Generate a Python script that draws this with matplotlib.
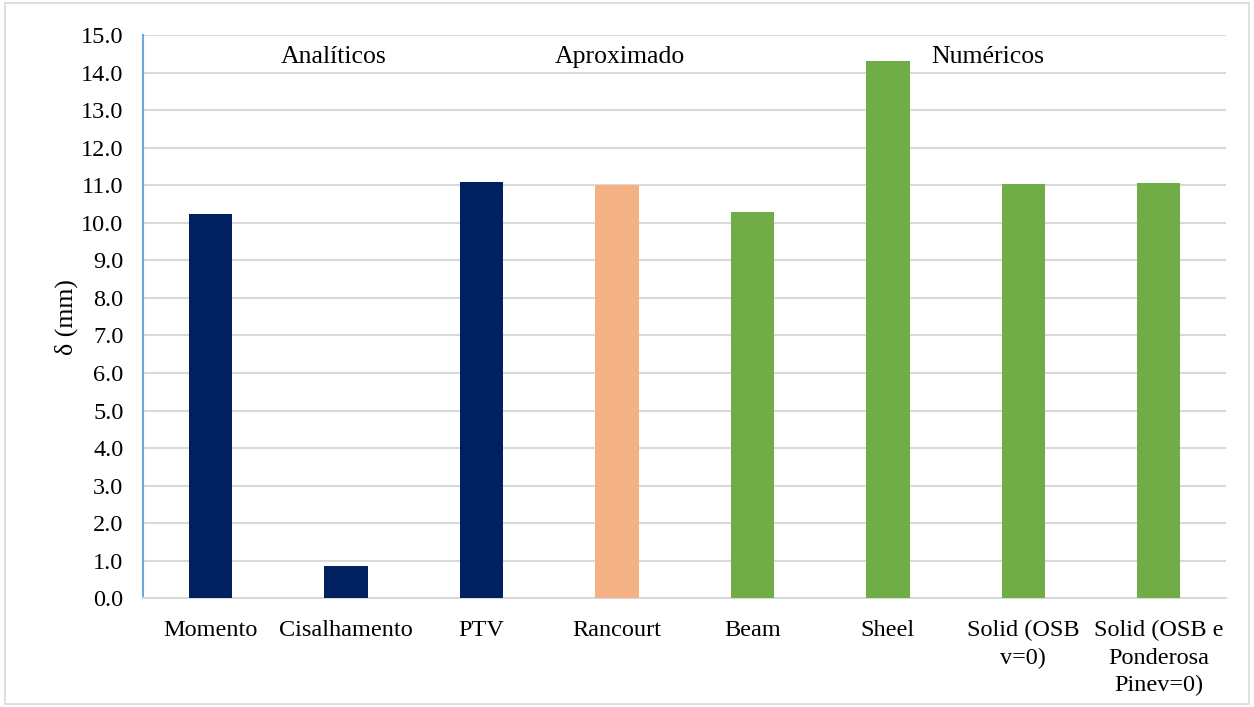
import matplotlib.pyplot as plt
from matplotlib.patches import Rectangle

plt.rcParams['font.family'] = ['Liberation Serif', 'DejaVu Serif']

categories = ["Momento", "Cisalhamento", "PTV", "Rancourt", "Beam", "Sheel",
              "Solid (OSB\nv=0)", "Solid (OSB e\nPonderosa\nPinev=0)"]
values = [10.23, 0.86, 11.08, 11.0, 10.29, 14.32, 11.05, 11.06]
colors = ["#002060", "#002060", "#002060", "#F4B183",
          "#70AD47", "#70AD47", "#70AD47", "#70AD47"]
groups = ["Analíticos", "Aproximado", "Numéricos"]
group_x = [0.91, 3.02, 5.74]

fig = plt.figure(figsize=(12.54, 7.07), dpi=100)
ax = fig.add_axes([0.114, 0.154, 0.864, 0.796])

x = list(range(len(categories)))
ax.bar(x, values, width=0.32, color=colors, zorder=3)

ax.set_xlim(-0.5, len(categories) - 0.5)
ax.set_ylim(0, 15)
ax.set_yticks(range(0, 16))
ax.set_yticklabels([f"{v:.1f}" for v in range(0, 16)])
ax.set_xticks(x)
ax.set_xticklabels(categories, linespacing=1.4)
ax.tick_params(axis='both', length=0, labelsize=17.5)
ax.tick_params(axis='x', pad=16)
ax.tick_params(axis='y', pad=14)
ax.yaxis.grid(True, color="#D9D9D9", linewidth=1.5, zorder=0)

for side in ["top", "right"]:
    ax.spines[side].set_visible(False)
ax.spines["bottom"].set_color("#D9D9D9")
ax.spines["bottom"].set_linewidth(1.5)
ax.spines["left"].set_color("#6FA8DC")
ax.spines["left"].set_linewidth(1.5)

ax.set_ylabel("δ (mm)", fontsize=18.5, labelpad=2)

for g, gx in zip(groups, group_x):
    ax.text(gx, 14.42, g, ha="center", va="center", fontsize=18.5)

# chart area border
fig.patches.append(Rectangle((0.004, 0.004), 0.992, 0.992, transform=fig.transFigure,
                             fill=False, edgecolor="#D9D9D9", linewidth=1.2))

fig.savefig("out.png", dpi=100)
